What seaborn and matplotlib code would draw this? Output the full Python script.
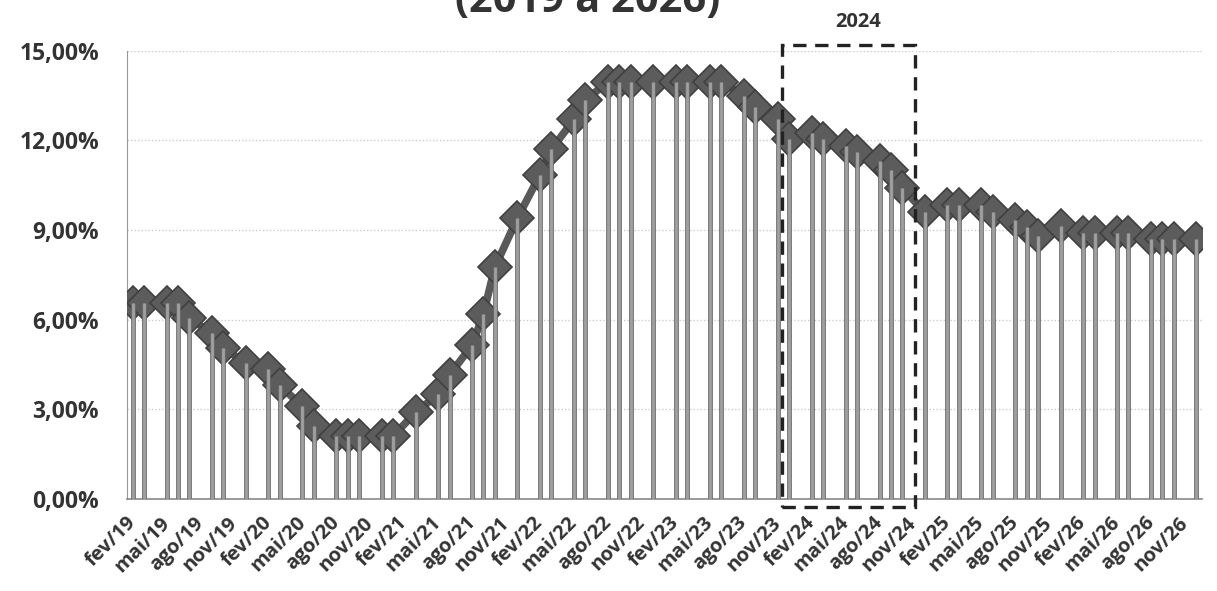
import numpy as np
import pandas as pd
import matplotlib.pyplot as plt
import matplotlib.patheffects as pe
from matplotlib.patches import Rectangle
import seaborn as sns

# reunioes (mes/ano) e taxa
reunioes = [
    "fev/19", "mar/19", "mai/19", "jun/19", "jul/19", "set/19", "out/19", "dez/19",
    "fev/20", "mar/20", "mai/20", "jun/20", "ago/20", "set/20", "out/20", "dez/20",
    "jan/21", "mar/21", "mai/21", "jun/21", "ago/21", "set/21", "out/21", "dez/21",
    "fev/22", "mar/22", "mai/22", "jun/22", "ago/22", "set/22", "out/22", "dez/22",
    "fev/23", "mar/23", "mai/23", "jun/23", "ago/23", "set/23", "nov/23", "dez/23",
    "fev/24", "mar/24", "mai/24", "jun/24", "ago/24", "set/24", "out/24", "dez/24",
    "fev/25", "mar/25", "mai/25", "jun/25", "ago/25", "set/25", "out/25", "dez/25",
    "fev/26", "mar/26", "mai/26", "jun/26", "ago/26", "set/26", "out/26", "dez/26",
]
taxa = [
    6.55, 6.55, 6.55, 6.55, 6.05, 5.55, 5.05, 4.55,
    4.35, 3.80, 3.10, 2.45, 2.10, 2.10, 2.10, 2.10,
    2.10, 2.90, 3.50, 4.15, 5.15, 6.20, 7.75, 9.40,
    10.85, 11.70, 12.70, 13.35, 13.95, 13.95, 13.95, 13.95,
    13.95, 13.95, 13.95, 13.95, 13.50, 13.10, 12.70, 12.05,
    12.25, 12.05, 11.80, 11.60, 11.30, 11.00, 10.40, 9.60,
    9.85, 9.85, 9.85, 9.60, 9.35, 9.10, 8.80, 9.15,
    8.90, 8.90, 8.90, 8.90, 8.70, 8.70, 8.70, 8.70,
]
rotulos_x = [
    "fev/19", "mai/19", "ago/19", "nov/19", "fev/20", "mai/20", "ago/20", "nov/20",
    "fev/21", "mai/21", "ago/21", "nov/21", "fev/22", "mai/22", "ago/22", "nov/22",
    "fev/23", "mai/23", "ago/23", "nov/23", "fev/24", "mai/24", "ago/24", "nov/24",
    "fev/25", "mai/25", "ago/25", "nov/25", "fev/26", "mai/26", "ago/26", "nov/26",
]
ticks_y = [0, 3, 6, 9, 12, 15]

meses_pt = ["jan", "fev", "mar", "abr", "mai", "jun", "jul", "ago", "set", "out", "nov", "dez"]


def mes_idx(rot):
    m, a = rot.split("/")
    return (int(a) - 19) * 12 + meses_pt.index(m) - 1


df = pd.DataFrame({"pos": [mes_idx(r) + 0.5 for r in reunioes], "taxa": taxa})

sns.set_style("white")
plt.rcParams['font.family'] = ['Open Sans', 'DejaVu Sans']
cor_txt = "#333333"

fig = plt.figure(figsize=(12.17, 5.91), dpi=100)
ax = fig.add_axes([0.1044, 0.1557, 0.8833, 0.7585])

# linhas verticais (drop lines)
ax.vlines(df["pos"], 0, df["taxa"], color="#a0a0a0", lw=2.0, zorder=4,
          path_effects=[pe.Stroke(linewidth=3.4, foreground="#6a6a6a"), pe.Normal()])

sns.lineplot(data=df, x="pos", y="taxa", ax=ax, color="#595959", lw=5.5,
             marker="D", markersize=17, markerfacecolor="#5c5c5c",
             markeredgecolor="#404040", markeredgewidth=1.2, zorder=3)

ax.set_xlim(0, 95)
ax.set_ylim(0, 15)
ax.set_yticks(ticks_y)
ax.set_yticklabels([f"{v:.2f}".replace(".", ",") + "%" for v in ticks_y],
                   fontweight="bold", color=cor_txt, fontsize=16.5)
# marcas nas fronteiras dos meses, rotulos no centro do mes
ax.set_xticks([mes_idx(r) for r in rotulos_x], minor=True)
ax.set_xticks([mes_idx(r) + 0.5 for r in rotulos_x])
ax.set_xticklabels(rotulos_x, rotation=45, ha="right", va="center",
                   rotation_mode="anchor", fontweight="bold", color=cor_txt, fontsize=14.5)
ax.set_xlabel("")
ax.set_ylabel("")
ax.yaxis.grid(True, color="#cccccc", ls=(0, (1, 1.5)), lw=1)
ax.xaxis.grid(False)
ax.tick_params(axis="y", length=0, pad=20)
ax.tick_params(axis="x", which="major", length=0, pad=15)
ax.tick_params(axis="x", which="minor", length=6, width=1, color="#777777")
sns.despine(ax=ax)
ax.spines["left"].set_color("#999999")
ax.spines["bottom"].set_color("#888888")
ax.spines["bottom"].set_linewidth(1.2)

# destaque 2024
ax.add_patch(Rectangle((57.9, -0.27), 11.75, 15.45, fill=False, ec="#222222",
                       lw=2.4, ls=(0, (4, 2.6)), clip_on=False, zorder=6))
ax.text(64.6, 15.95, "2024", ha="center", va="center", fontsize=14.5,
        fontweight="bold", color=cor_txt)

fig.text(588 / 1217, 1 - 12 / 591, "(2019 a 2026)", ha="center", va="baseline",
         fontsize=30, fontweight="bold", color=cor_txt)

fig.savefig("out.png", dpi=100)
